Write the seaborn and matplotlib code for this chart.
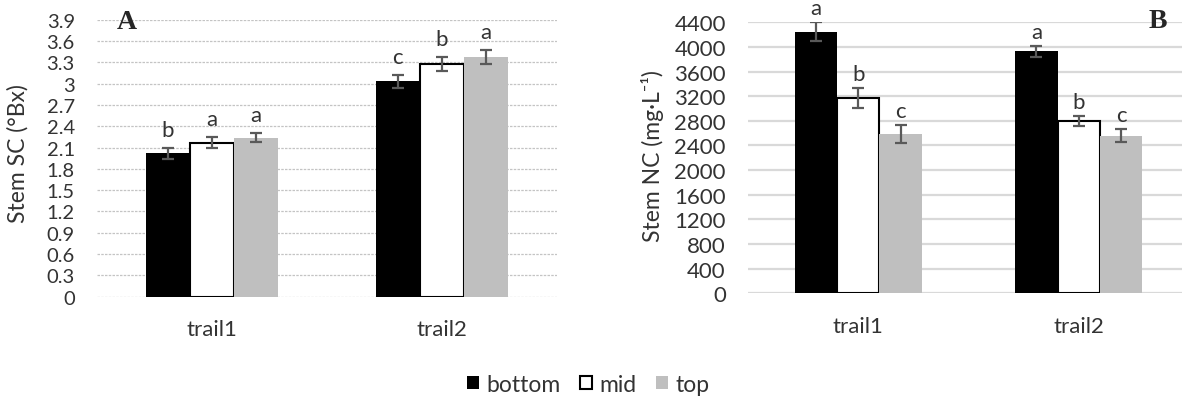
import pandas as pd
import matplotlib
matplotlib.use("Agg")
import matplotlib.pyplot as plt
import seaborn as sns
from matplotlib.patches import Patch

# categories
trials = ["trail1", "trail2"]
positions = ["bottom", "mid", "top"]

# panel A: stem soluble sugar (°Bx)
sc_bottom = [2.02, 3.03]
sc_mid = [2.17, 3.28]
sc_top = [2.24, 3.38]
sc_err_bottom = [0.075, 0.094]
sc_err_mid = [0.075, 0.096]
sc_err_top = [0.066, 0.10]
sc_let_bottom = ["b", "c"]
sc_let_mid = ["a", "b"]
sc_let_top = ["a", "a"]
sc_ticks = [0, 0.3, 0.6, 0.9, 1.2, 1.5, 1.8, 2.1, 2.4, 2.7, 3, 3.3, 3.6, 3.9]

# panel B: stem nitrate (mg/L)
nc_bottom = [4250, 3930]
nc_mid = [3170, 2795]
nc_top = [2585, 2560]
nc_err_bottom = [154, 92]
nc_err_mid = [168, 84]
nc_err_top = [151, 103]
nc_let_bottom = ["a", "a"]
nc_let_mid = ["b", "b"]
nc_let_top = ["c", "c"]
nc_ticks = list(range(0, 4401, 400))

colors = {"bottom": "#000000", "mid": "#FFFFFF", "top": "#BFBFBF"}
txt = "#333333"

sns.set_theme(style="white")
plt.rcParams["font.family"] = ["Lato", "DejaVu Sans"]


def long_df(b, m, t):
    rows = []
    for pos, vals in zip(positions, [b, m, t]):
        for tr, v in zip(trials, vals):
            rows.append({"trial": tr, "position": pos, "value": v})
    return pd.DataFrame(rows)


def draw(ax, b, m, t, errs, lets, ticks, tick_fs, grid_kw, let_off):
    df = long_df(b, m, t)
    sns.barplot(data=df, x="trial", y="value", hue="position", order=trials,
                hue_order=positions, palette=colors, saturation=1, width=0.575,
                errorbar=None, linewidth=0, legend=False, ax=ax)
    for cont, pos, err, let in zip(ax.containers, positions, errs, lets):
        xs = [bar.get_x() + bar.get_width() / 2 for bar in cont]
        hs = [bar.get_height() for bar in cont]
        if pos == "mid":
            for bar in cont:
                bar.set_edgecolor("black")
                bar.set_linewidth(1.5)
        ax.errorbar(xs, hs, yerr=err, fmt="none", ecolor="#595959",
                    elinewidth=1.6, capsize=4, capthick=1.6, zorder=5)
        for x, h, e, l in zip(xs, hs, err, let):
            ax.annotate(l, (x, h + e), xytext=(0, let_off), textcoords="offset points",
                        ha="center", va="baseline", fontsize=16, color=txt)
    ax.set_ylim(0, ticks[-1])
    ax.set_yticks(ticks)
    ax.set_yticklabels([f"{v:g}" for v in ticks])
    ax.set_xlim(-0.5, 1.5)
    ax.set_xlabel("")
    ax.yaxis.grid(True, **grid_kw)
    ax.xaxis.grid(False)
    ax.set_axisbelow(True)
    for s in ax.spines.values():
        s.set_visible(False)
    ax.tick_params(axis="y", length=0, pad=16, labelsize=tick_fs, labelcolor=txt)
    ax.tick_params(axis="x", length=0, pad=16, labelsize=16, labelcolor=txt)


fig = plt.figure(figsize=(11.82, 4.02), dpi=100)
axA = fig.add_axes([97 / 1182, 1 - 297.7 / 402, 460 / 1182, 277 / 402])
axB = fig.add_axes([748 / 1182, 1 - 294.3 / 402, 441 / 1182, 271 / 402])

draw(axA, sc_bottom, sc_mid, sc_top,
     [sc_err_bottom, sc_err_mid, sc_err_top],
     [sc_let_bottom, sc_let_mid, sc_let_top],
     sc_ticks, 14.5,
     dict(color="#c4c4c4", linestyle=(0, (2, 1)), linewidth=0.9), 8.5)
draw(axB, nc_bottom, nc_mid, nc_top,
     [nc_err_bottom, nc_err_mid, nc_err_top],
     [nc_let_bottom, nc_let_mid, nc_let_top],
     nc_ticks, 16,
     dict(color="#d9d9d9", linestyle="-", linewidth=1.6), 5.8)

axA.set_ylabel("Stem SC (°Bx)", fontsize=16.5, color=txt)
axA.yaxis.set_label_coords(-0.148, 0.52)
axB.set_ylabel("Stem NC (mg·L⁻¹)", fontsize=16.5, color=txt)
axB.yaxis.set_label_coords(-0.19, 0.51)

fig.text(117 / 1182, 1 - 29 / 402, "A", fontsize=20, fontweight="bold",
         family="Liberation Serif", ha="left", va="baseline")
fig.text(1149 / 1182, 1 - 28 / 402, "B", fontsize=20, fontweight="bold",
         family="Liberation Serif", ha="left", va="baseline")

handles = [Patch(facecolor=colors[p], edgecolor="black" if p == "mid" else colors[p],
                 linewidth=1.5 if p == "mid" else 0) for p in positions]
fig.legend(handles, positions, loc="center", bbox_to_anchor=(0.4975, 0.042), ncol=3,
           frameon=False, handlelength=0.55, handleheight=0.55, handletextpad=0.3,
           columnspacing=0.85, fontsize=16.5, labelcolor=txt)

fig.savefig("out.png", dpi=100)
